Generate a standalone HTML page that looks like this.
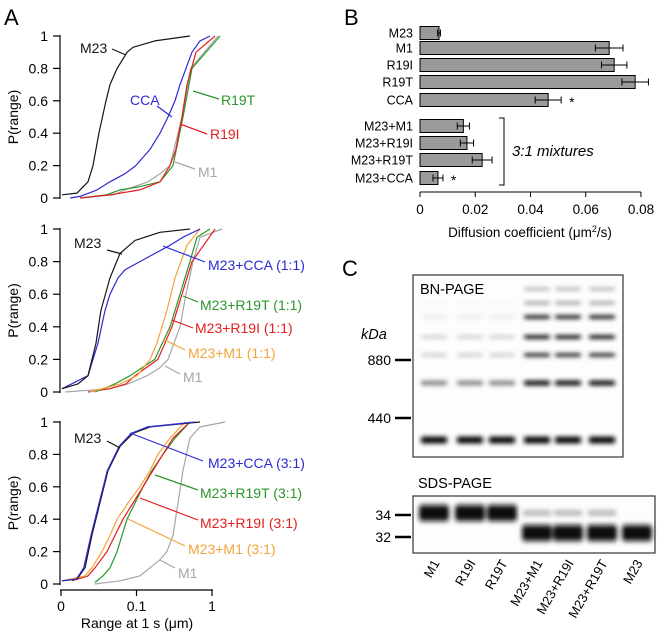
<!DOCTYPE html>
<html><head><meta charset="utf-8"><style>
html,body{margin:0;padding:0;background:#fff;}
svg{display:block;font-family:"Liberation Sans",Arial,sans-serif;}
</style></head><body>
<svg id="fig" width="660" height="635" viewBox="0 0 660 635">
<defs>
<filter id="blur" x="-30%" y="-100%" width="160%" height="300%"><feGaussianBlur stdDeviation="2.5 2"/></filter>
<filter id="blur2" x="-30%" y="-100%" width="160%" height="300%"><feGaussianBlur stdDeviation="2.5 2.6"/></filter>
</defs>
<g id="panelA"></g>
<g id="panelB"></g>
<g id="panelC"></g>
</svg>
<script>
// ---------- Panel A data (range in µm at cumulative probability) ----------
const topM23_P=[0.02,0.03,0.1,0.2,0.4,0.6,0.7,0.8,0.9,0.93,0.97,1];
const topM23_X=[0.0103,0.0163,0.0228,0.0265,0.0318,0.0395,0.0446,0.0553,0.075,0.0899,0.175,0.51];
const topCCA_P=[0,0.01,0.05,0.1,0.15,0.2,0.3,0.4,0.5,0.6,0.7,0.8,0.9,0.97,1];
const topCCA_X=[0.0132,0.0179,0.030,0.0446,0.0704,0.098,0.151,0.205,0.261,0.324,0.377,0.453,0.543,0.693,0.941];
const topR19I_P=[0,0.02,0.05,0.1,0.2,0.3,0.5,0.7,0.9,1];
const topR19I_X=[0.0179,0.0446,0.111,0.205,0.278,0.333,0.401,0.467,0.614,1.10];
const topR19T_P=[0,0.02,0.05,0.07,0.1,0.2,0.5,0.8,1];
const topR19T_X=[0.0179,0.04,0.060,0.11,0.205,0.304,0.413,0.543,1.28];
const topM1_P=[0,0.02,0.05,0.1,0.15,0.2,0.5,0.8,1];
const topM1_X=[0.0179,0.05,0.0704,0.142,0.205,0.278,0.401,0.52,1.20];

const midM23_P=[0.02,0.05,0.1,0.3,0.5,0.7,0.85,0.93,0.98,1];
const midM23_X=[0.0103,0.0168,0.0228,0.0291,0.0338,0.0446,0.0604,0.0955,0.205,0.51];
const midCCA_P=[0.02,0.1,0.3,0.5,0.6,0.7,0.75,0.8,0.85,0.9,0.95,1];
const midCCA_X=[0.0103,0.0228,0.0309,0.0383,0.0446,0.057,0.0704,0.111,0.175,0.278,0.413,0.693];
const midMix1_P=[0,0.05,0.1,0.2,0.3,0.5,0.7,0.9,1];
const midMix1_X=[0.0242,0.0604,0.1015,0.151,0.187,0.253,0.324,0.467,0.693];
const midR19T_P=[0,0.05,0.1,0.2,0.4,0.6,0.8,0.95,1];
const midR19T_X=[0.0282,0.0519,0.082,0.175,0.278,0.377,0.51,0.632,0.941];
const midR19I_P=[0,0.02,0.05,0.1,0.2,0.4,0.6,0.8,1];
const midR19I_X=[0.0228,0.0446,0.0725,0.0955,0.192,0.295,0.401,0.543,1.10];
const midM1_P=[0,0.02,0.05,0.1,0.15,0.2,0.4,0.6,0.8,0.95,1];
const midM1_X=[0.0113,0.0446,0.0771,0.138,0.205,0.261,0.377,0.453,0.56,0.693,1.36];

const botM23_P=[0.02,0.03,0.1,0.3,0.5,0.7,0.85,0.93,0.97,1];
const botM23_X=[0.0103,0.0163,0.0208,0.0257,0.0328,0.0419,0.0604,0.0899,0.151,0.693];
const botCCA_P=[0.02,0.03,0.1,0.3,0.5,0.7,0.85,0.93,0.97,1];
const botCCA_X=[0.0103,0.016,0.020,0.025,0.032,0.041,0.059,0.085,0.14,0.6];
const botMix1_P=[0.02,0.05,0.1,0.2,0.3,0.4,0.5,0.6,0.7,0.8,0.9,1];
const botMix1_X=[0.0103,0.0208,0.0257,0.0349,0.0446,0.0553,0.0771,0.111,0.151,0.192,0.278,0.439];
const botR19I_P=[0.02,0.05,0.1,0.2,0.3,0.4,0.5,0.6,0.7,0.8,0.9,1];
const botR19I_X=[0.014,0.0228,0.0282,0.0407,0.0519,0.0662,0.0899,0.122,0.165,0.224,0.304,0.51];
const botR19T_P=[0.01,0.05,0.1,0.2,0.3,0.4,0.5,0.6,0.7,0.8,0.9,1];
const botR19T_X=[0.0282,0.036,0.0446,0.0553,0.0642,0.0748,0.0955,0.122,0.160,0.224,0.324,0.51];
const botM1_P=[0,0.02,0.05,0.1,0.15,0.2,0.3,0.5,0.7,0.9,0.97,1];
const botM1_X=[0.0282,0.0604,0.111,0.151,0.205,0.253,0.304,0.355,0.413,0.51,0.693,1.49];

const yTickVals=[0,0.2,0.4,0.6,0.8,1];
const yTickLabels=["0","0.2","0.4","0.6","0.8","1"];
const xTickVals=[0.01,0.1,1];
const xTickLabels=["0","0.1","1"];

// ---------- Panel B data ----------
const bCats=["M23","M1","R19I","R19T","CCA","M23+M1","M23+R19I","M23+R19T","M23+CCA"];
const bVals=[0.0069,0.0685,0.0703,0.0779,0.0464,0.0157,0.0170,0.0225,0.0065];
const bErrs=[0.0005,0.0050,0.0046,0.0048,0.0047,0.0022,0.0024,0.0036,0.0018];
const bStar=[false,false,false,false,true,false,false,false,true];
const bTickVals=[0,0.02,0.04,0.06,0.08];
const bTickLabels=["0","0.02","0.04","0.06","0.08"];

// ---------- Panel C data ----------
const cLanesBN=["M1","R19I","R19T","M23+M1","M23+R19I","M23+R19T"];
const cLanesSDS=["M1","R19I","R19T","M23+M1","M23+R19I","M23+R19T","M23"];

const NS="http://www.w3.org/2000/svg";
function mk(parent,tag,attrs){const e=document.createElementNS(NS,tag);for(const k in attrs)e.setAttribute(k,attrs[k]);parent.appendChild(e);return e;}
function txt(parent,x,y,s,attrs){const t=mk(parent,'text',Object.assign({x:x,y:y},attrs||{}));t.textContent=s;return t;}

// ---------- Panel A ----------
const A=document.getElementById('panelA');
const ax=v=>61+75.5*(Math.log10(v)+2);
const lt=txt(A,4,25,"A",{'font-size':22});


const COL={k:"#151515",b:"#2b2bd6",r:"#e41e1e",g:"#2b962b",gr:"#a6a6a6",o:"#f2a43a"};
const panels=[
 {y1:36,y0:198,name:'top',series:[[topM1_X,topM1_P,COL.gr],[topR19T_X,topR19T_P,COL.g],[topR19I_X,topR19I_P,COL.r],[topCCA_X,topCCA_P,COL.b],[topM23_X,topM23_P,COL.k]],
  labels:[["M23",80,53,COL.k,[112,49,126,55]],["CCA",130,105,COL.b,[157,106,172,117]],["R19T",221,105,COL.g,[219,99,193,91]],["R19I",210,139,COL.r,[207,134,180,124]],["M1",198,177,COL.gr,[195,169,175,162]]]},
 {y1:229,y0:392,name:'middle',series:[[midM1_X,midM1_P,COL.gr],[midR19I_X,midR19I_P,COL.r],[midR19T_X,midR19T_P,COL.g],[midMix1_X,midMix1_P,COL.o],[midCCA_X,midCCA_P,COL.b],[midM23_X,midM23_P,COL.k]],
  labels:[["M23",74,248,COL.k,[107,250,122,254]],["M23+CCA (1:1)",208,270,COL.b,[205,262,163,246]],["M23+R19T (1:1)",200,310,COL.g,[198,302,183,296]],["M23+R19I (1:1)",195,333,COL.r,[193,328,172,320]],["M23+M1 (1:1)",188,358,COL.o,[185,350,163,339]],["M1",183,382,COL.gr,[180,374,165,366]]]},
 {y1:422,y0:584,name:'bottom',series:[[botM1_X,botM1_P,COL.gr],[botR19T_X,botR19T_P,COL.g],[botR19I_X,botR19I_P,COL.r],[botMix1_X,botMix1_P,COL.o],[botM23_X,botM23_P,COL.k],[botCCA_X,botCCA_P,COL.b]],
  labels:[["M23",74,443,COL.k,[107,441,120,448]],["M23+CCA (3:1)",208,468,COL.b,[203,461,130,433]],["M23+R19T (3:1)",200,498,COL.g,[198,490,155,475]],["M23+R19I (3:1)",200,528,COL.r,[198,520,140,498]],["M23+M1 (3:1)",188,554,COL.o,[185,546,128,519]],["M1",178,578,COL.gr,[175,568,160,560]]]}
];
panels.forEach(p=>{
  const g=mk(A,'g',{});
  
  
  const ay=v=>p.y0-(p.y0-p.y1)*v;
  const axl=mk(g,'line',{x1:60,y1:ay(1)-1,x2:60,y2:ay(0)+1,stroke:'#000','stroke-width':1.2});
  
  
  yTickVals.forEach((v,i)=>{
    mk(g,'line',{x1:53,y1:ay(v),x2:60,y2:ay(v),stroke:'#000','stroke-width':1.2});
    const t=txt(g,48,ay(v)+5,yTickLabels[i],{'font-size':14,'text-anchor':'end'});
    
    
  });
  const yt=txt(g,0,0,"P(range)",{'font-size':14,'text-anchor':'middle',transform:`translate(18,${(p.y0+p.y1)/2}) rotate(-90)`});
  
  
  p.series.forEach(s=>{
    const pts=s[0].map((x,i)=>ax(x).toFixed(1)+','+ay(s[1][i]).toFixed(1)).join(' ');
    const pl=mk(g,'polyline',{points:pts,fill:'none',stroke:s[2],'stroke-width':1.2,'stroke-linejoin':'round'});
    
    
  });
  p.labels.forEach(l=>{
    const ln=mk(g,'line',{x1:l[4][0],y1:l[4][1],x2:l[4][2],y2:l[4][3],stroke:l[3],'stroke-width':1.2});
    
    
    const t=txt(g,l[1],l[2],l[0],{'font-size':14,fill:l[3]});
    
    
  });
});
{
  const g=mk(A,'g',{});
  
  
  mk(g,'line',{x1:60,y1:590,x2:213,y2:590,stroke:'#000','stroke-width':1.2});
  xTickVals.forEach((v,i)=>{
    mk(g,'line',{x1:ax(v),y1:590,x2:ax(v),y2:596,stroke:'#000','stroke-width':1.2});
    const t=txt(g,ax(v),611,xTickLabels[i],{'font-size':14,'text-anchor':'middle'});
    
    
  });
  const t=txt(g,137,628,"Range at 1 s (\u03bcm)",{'font-size':14,'text-anchor':'middle'});
  
  
}

// ---------- Panel B ----------
const B=document.getElementById('panelB');
const bx=v=>420+2762*v;
const bRowY=[33,48,65,82,100,126,143,160,178];
const lb=txt(B,344,25,"B",{'font-size':22});


bCats.forEach((c,i)=>{
  const y=bRowY[i];
  const r=mk(B,'rect',{x:bx(0),y:y-6.5,width:bx(bVals[i])-bx(0),height:13,fill:'#9a9a9a',stroke:'#000','stroke-width':1});
  
  
  const e1=bx(bVals[i]-bErrs[i]),e2=bx(bVals[i]+bErrs[i]);
  const eb=mk(B,'path',{d:`M${e1},${y}H${e2}M${e1},${y-3.5}V${y+3.5}M${e2},${y-3.5}V${y+3.5}`,stroke:'#000','stroke-width':1,fill:'none'});
  
  
  const t=txt(B,413,y+4.5,c,{'font-size':12.5,'text-anchor':'end'});
  
  
  if(bStar[i]){const s=txt(B,e2+8,y+7,"*",{'font-size':14});
    
    }
});
{
  const br=mk(B,'path',{d:'M499,118H504V185H499',fill:'none',stroke:'#000','stroke-width':1});
  
  
  const t=txt(B,512,156,"3:1 mixtures",{'font-size':15,'font-style':'italic'});
  
  
  const g=mk(B,'g',{});
  
  
  mk(g,'line',{x1:bx(0),y1:192,x2:bx(0.08),y2:192,stroke:'#000','stroke-width':1});
  bTickVals.forEach((v,i)=>{
    mk(g,'line',{x1:bx(v),y1:192,x2:bx(v),y2:197,stroke:'#000','stroke-width':1});
    const tt=txt(g,bx(v),214,bTickLabels[i],{'font-size':13.5,'text-anchor':'middle'});
    
    
  });
  const tt=txt(g,530,237,"",{'font-size':13.5,'text-anchor':'middle'});
  tt.innerHTML='Diffusion coefficient (\u03bcm<tspan dy="-5" font-size="9">2</tspan><tspan dy="5">/s)</tspan>';
  
  
}

// ---------- Panel C ----------
const C=document.getElementById('panelC');
const lc=txt(C,342,276,"C",{'font-size':22});


const laneX=[434,470,502,537,568,602,637];
{
  const g=mk(C,'g',{});
  
  
  mk(g,'rect',{x:413,y:275,width:210,height:182,fill:'#fdfdfd',stroke:'#333','stroke-width':1.2});
  const bandsG=mk(g,'g',{filter:'url(#blur)'});
  const bnRows=[[440,7,'#111','#0a0a0a'],[383,5,'#8a8a8a','#111'],[355,4,'#d4d4d4','#333'],[337,4,'#d4d4d4','#151515'],[317,4,'#ececec','#222'],[303,3,'#f4f4f4','#999'],[289,3,'#fdfdfd','#b0b0b0']];
  cLanesBN.forEach((l,i)=>{
    bnRows.forEach(r=>{
      const c=i<3?r[2]:r[3];
      const b=mk(bandsG,'rect',{x:laneX[i]-13,y:r[0]-r[1]/2,width:26,height:r[1],fill:c,rx:2});
      
      
    });
  });
  const t=txt(g,420,294,"BN-PAGE",{'font-size':14.5});
  
  
  const k=txt(C,361,339,"kDa",{'font-size':14.5,'font-style':'italic'});
  
  
  [["880",360],["440",418]].forEach(m=>{
    mk(C,'line',{x1:395,y1:m[1],x2:411,y2:m[1],stroke:'#000','stroke-width':2.5});
    const tt=txt(C,391,m[1]+5,m[0],{'font-size':14,'text-anchor':'end'});
    
    
  });
}
{
  const g=mk(C,'g',{});
  
  
  mk(g,'rect',{x:413,y:496,width:242,height:57,fill:'#fdfdfd',stroke:'#333','stroke-width':1.2});
  const bandsG=mk(g,'g',{filter:'url(#blur2)'});
  cLanesSDS.forEach((l,i)=>{
    if(i<3){const b=mk(bandsG,'rect',{x:laneX[i]-15,y:505,width:30,height:16,fill:'#111',rx:3});
      
      }
    else{
      if(i<6){const f=mk(bandsG,'rect',{x:laneX[i]-14,y:511,width:28,height:4,fill:'#999'});
        
        }
      const b=mk(bandsG,'rect',{x:laneX[i]-15,y:525,width:30,height:16,fill:'#111',rx:3});
      
      
    }
    const tt=txt(C,0,0,l,{'font-size':13,'text-anchor':'end',transform:`translate(${laneX[i]+6},${563}) rotate(-60)`});
    
    
  });
  const t=txt(g,418,488,"SDS-PAGE",{'font-size':14.5});
  
  
  [["34",515],["32",537]].forEach(m=>{
    mk(C,'line',{x1:395,y1:m[1],x2:411,y2:m[1],stroke:'#000','stroke-width':2.5});
    const tt=txt(C,391,m[1]+5,m[0],{'font-size':14,'text-anchor':'end'});
    
    
  });
}
</script>
</body></html>
